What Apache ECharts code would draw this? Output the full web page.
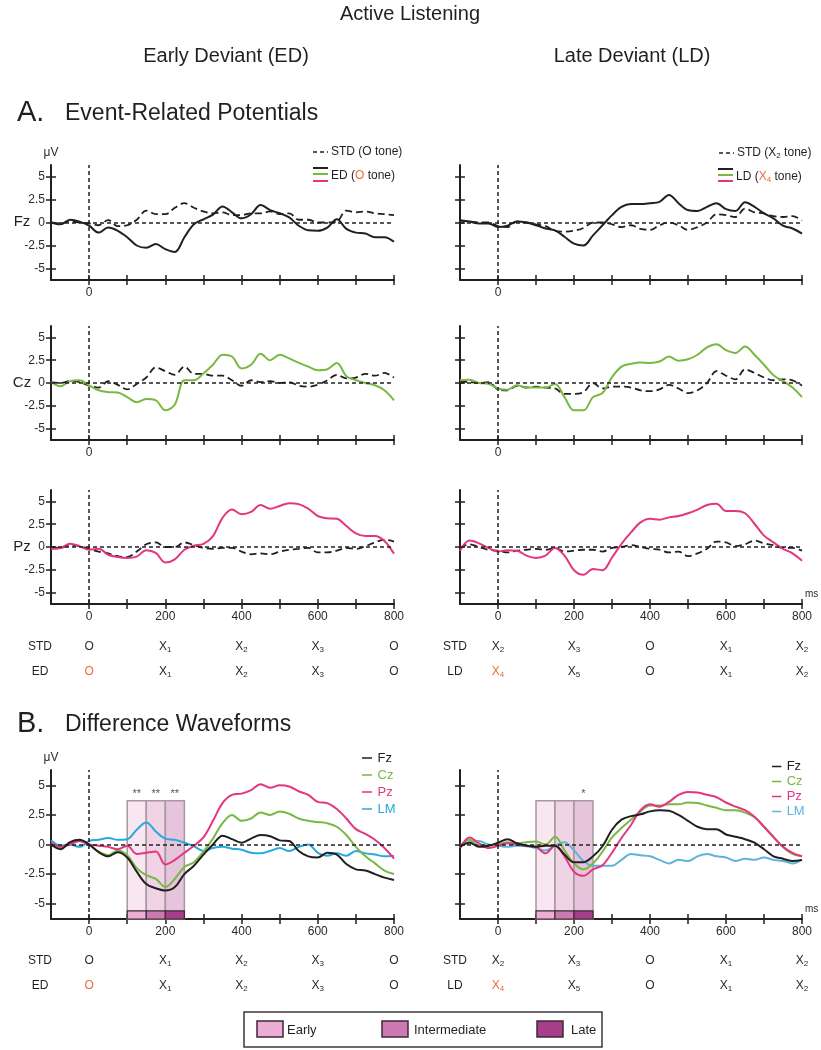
<!DOCTYPE html>
<html><head><meta charset="utf-8">
<script src="https://cdn.jsdelivr.net/npm/echarts@6/dist/echarts.min.js"></script>
<style>html,body{margin:0;padding:0;background:#fff}#c{width:821px;height:1050px}</style>
</head><body><div id="c"></div>
<script>
// ---------- data ----------
const times = [-100,-75,-50,-25,0,25,50,75,100,125,150,175,200,225,250,275,300,325,350,375,400,425,450,475,500,525,550,575,600,625,650,675,700,725,750,775,800];

// A. ERPs (µV)
const fzED   = [0,-0.2,0.3,0.1,-0.35,-1.1,-0.55,-0.9,-1.6,-2.5,-2.75,-2.35,-2.9,-3.2,-1.6,-0.2,0.35,0.85,1.75,1.1,0.45,0.9,1.9,1.35,1.0,0.55,-0.35,-0.85,-0.9,-0.55,0.35,-0.7,-1.1,-1.2,-1.6,-1.6,-2.1];
const fzStdL = [0,-0.1,0.1,0,-0.1,-0.3,0.25,-0.4,-0.3,0.3,1.3,0.9,0.9,1.6,2.1,1.6,1.2,1.0,1.1,0.8,0.8,1.0,1.0,1.2,0.9,1.0,0.3,0.3,0,0,0.1,1.3,1.1,1.2,1.0,0.9,0.8];
const fzLD   = [0.25,0.1,-0.1,-0.1,-0.5,-0.35,0.1,0,-0.3,-0.65,-0.85,-1.55,-2.3,-2.5,-1.4,-0.3,0.8,1.7,2.0,2.0,2.1,2.25,3.0,2.1,1.35,1.25,1.7,2.1,1.45,1.25,2.2,1.7,1.0,0.45,-0.35,-0.65,-1.2];
const fzStdR = [0.2,0.1,0,0,-0.4,-0.5,0.1,0,-0.2,-0.4,-0.9,-1.0,-0.9,-0.6,0,0,-0.2,-0.5,-0.3,-0.7,-0.8,-0.3,0,-0.3,-0.8,-0.5,0,0.9,0.8,0.6,1.5,1.1,1.0,0.7,0.6,0.7,0.2];
const czED   = [0.1,-0.35,0.2,0.3,-0.25,-0.8,-1.0,-1.05,-1.55,-2.1,-1.75,-1.9,-3.0,-2.35,0.3,0.3,1.05,2.0,3.1,2.9,1.6,2.0,3.2,2.5,3.1,2.7,2.2,1.8,1.4,1.5,2.2,0.75,0.3,0,-0.25,-0.8,-1.9];
const czStdL = [0.1,0,0.2,0.1,-0.3,-0.5,0.2,-0.2,-0.7,-0.1,0.6,1.7,1.3,0.9,1.8,1.0,1.0,0.8,0.8,0.3,-0.3,0.3,0.1,0.2,0,0.1,-0.3,-0.4,-0.2,0.3,0.9,0.5,0.6,1.0,0.8,1.1,0.6];
const czLD   = [0.3,0.35,0,-0.1,-0.6,-0.75,-0.25,-0.5,-0.5,-0.5,-0.1,-1.55,-3.0,-3.0,-1.55,-1.1,0.65,1.8,2.1,2.25,2.2,2.35,2.9,2.45,2.6,3.1,3.9,4.25,3.6,3.3,4.0,3.1,2.0,0.85,0.2,-0.5,-1.55];
const czStdR = [0.2,0.1,0,0.1,-0.7,-0.8,-0.3,-0.5,-0.4,-0.5,-0.6,-1.2,-1.2,-1.0,0,-0.6,-0.4,-0.4,-0.5,-0.8,-0.9,-0.7,-0.2,-0.6,-1.1,-0.8,0,1.3,0.8,0.4,1.5,1.1,0.6,0.3,0.4,0.3,-0.3];
const pzED   = [-0.2,-0.1,0.35,0.1,-0.3,-0.2,-0.85,-1.1,-1.2,-1.05,-0.35,-0.65,-1.7,-1.35,-0.3,0.15,0.35,1.2,3.2,4.1,3.6,3.85,4.6,4.2,4.5,4.8,4.7,4.2,3.4,3.15,3.1,2.3,1.5,1.2,1.2,0.65,-0.75];
const pzStdL = [0,-0.1,0.2,0.1,-0.2,-0.5,-0.7,-1.0,-1.1,-0.5,0.3,0.5,0,0,0.5,0.2,-0.1,-0.2,-0.1,-0.1,-0.5,-0.8,-0.7,-0.8,-0.5,-0.3,-0.2,-0.1,-0.6,-0.6,-0.4,-0.1,-0.2,0.1,0.5,0.8,0.6];
const pzLD   = [-0.4,0.7,0.4,-0.1,-0.5,-0.35,-0.4,-0.95,-1.2,-0.95,-0.1,-0.95,-2.55,-3.05,-2.4,-2.55,-1.15,0.35,1.6,2.7,3.1,3.0,3.25,3.4,3.7,4.1,4.6,4.75,3.95,3.95,3.7,2.55,1.25,0.5,-0.2,-0.7,-1.5];
const pzStdR = [-0.1,0.3,0,-0.3,-0.4,-0.6,-0.4,-0.3,-0.2,-0.3,-0.1,-0.5,-0.4,-0.3,-0.3,-0.5,-0.1,0,0.2,0,-0.2,-0.3,-0.6,-0.5,-1.0,-0.7,-0.2,0.6,0.5,0.1,0.3,0.7,0.4,0.2,-0.1,-0.1,-0.4];

// B. Difference waveforms (µV)
const dL_Fz = [0,-0.4,0.2,0.4,0,-0.65,-1.0,-0.65,-1.1,-2.3,-3.35,-3.7,-3.9,-3.6,-2.5,-1.8,-0.85,0,0.75,0.45,0.15,0.5,0.8,0.7,0.35,0.3,-0.55,-1.0,-1.1,-0.7,-0.85,-1.65,-2.1,-2.2,-2.5,-2.8,-3.0];
const dL_Cz = [0,-0.3,0.1,0.3,0,-0.6,-0.9,-0.5,-0.9,-2.0,-2.6,-2.9,-3.6,-2.9,-1.9,-1.5,-0.6,0.5,1.8,2.5,2.0,2.2,2.7,2.5,2.8,2.6,2.2,2.0,1.9,1.8,1.5,0.8,-0.2,-1.0,-1.6,-2.2,-2.5];
const dL_Pz = [0.15,-0.2,0,0.3,0,-0.1,-0.2,-0.4,-0.1,-0.8,-0.7,-0.6,-1.7,-1.3,-0.7,-0.1,0.6,2.0,3.5,4.2,4.3,4.6,5.1,4.8,5.0,4.9,4.5,4.2,3.6,3.5,3.0,2.2,1.3,0.9,0.4,-0.3,-1.2];
const dL_LM = [0.35,-0.1,0,-0.2,0.3,0.4,0.55,0.4,0.45,1.25,1.85,1.1,0.5,0.4,0.15,-0.15,-0.55,-0.3,-0.2,-0.35,-0.45,-0.7,-0.75,-0.55,-0.3,-0.55,-0.2,0,-0.7,-0.95,-0.75,-0.95,-0.55,-0.75,-0.85,-1.0,-0.95];
const dR_Fz = [-0.2,0.15,-0.2,-0.1,0.15,0.45,0.1,-0.1,-0.2,-0.1,-0.1,-0.85,-1.5,-1.5,-1.0,-0.15,1.25,2.1,2.4,2.55,2.8,2.9,2.85,2.5,2.0,1.5,1.3,1.3,0.85,0.65,0.45,0.15,-0.4,-1.0,-1.2,-1.4,-1.3];
const dR_Cz = [-0.2,0.4,-0.1,-0.1,0,0.2,0.1,0.2,0.25,0,0.65,-0.5,-1.6,-2.1,-1.6,-0.6,0.6,1.4,2.1,2.8,3.3,3.3,3.4,3.4,3.55,3.5,3.3,3.1,2.9,2.9,2.7,2.3,1.5,0.6,-0.2,-0.8,-1.0];
const dR_Pz = [-0.3,0.6,0.1,-0.3,-0.1,0.1,0,-0.1,-0.2,-0.75,-0.1,-1.0,-2.3,-2.65,-2.1,-1.75,-0.7,0.55,1.65,2.9,3.4,3.2,3.6,4.2,4.45,4.4,4.2,4.0,3.55,3.2,2.9,2.35,1.5,0.65,-0.2,-0.7,-1.0];
const dR_LM = [0,0.2,0.3,0,-0.1,-0.2,-0.1,-0.15,-0.3,-0.5,-0.1,0.2,-0.5,-1.4,-1.8,-1.8,-1.8,-1.3,-0.8,-0.9,-1.0,-1.3,-1.6,-1.3,-1.4,-1.0,-0.8,-1.0,-1.1,-1.4,-1.2,-1.3,-1.1,-1.3,-1.4,-1.6,-1.3];

// ticks / labels
const xTicks = [0,100,200,300,400,500,600,700,800];
const xLabelsFull = [0,200,400,600,800];
const xLabelsZero = [0];
const yTicks = [-5,-2.5,0,2.5,5];
const yRangeA = 6.25, yRangeB = 6.3;

// time windows (ms) and significance
const bandEdges = [100,150,200,250];
const bandNames = ['Early','Intermediate','Late'];
const bandTop = 3.7;
const barTop = -5.62;
const starsL = ['**','**','**'];
const starsR = ['','','*'];

// tone sequences under the panels
const seqL_std = ['O','X1','X2','X3','O'];
const seqL_dev = ['O','X1','X2','X3','O'];
const seqR_std = ['X2','X3','O','X1','X2'];
const seqR_dev = ['X4','X5','O','X1','X2'];
const devHighlight = 0;

// ---------- styles ----------
const FF = '"Liberation Sans", Arial, Helvetica, sans-serif';
const INK = '#231f20', TXT = '#2a2a2a';
const C = {black:'#231f20', green:'#78b843', pink:'#e4367f', blue:'#25a9e0', blue2:'#5db3dc', orange:'#ec6a3c'};
const bandFill = ['#f8e6f0','#f0d4e6','#e5c4dc'];
const barFill = ['#ecaed4','#cd7ab4','#a63e8b'];
const LINE_ICON = 'path://M0,0L0.01,0M0,6.2L10,6.2L10,7.8L0,7.8ZM10,14L9.99,14';

const seqRich = {
  n:{fontSize:12, color:TXT, fontFamily:FF, lineHeight:14},
  s:{fontSize:8, color:TXT, fontFamily:FF, lineHeight:9, verticalAlign:'bottom'},
  o:{fontSize:12, color:C.orange, fontFamily:FF, lineHeight:14},
  os:{fontSize:8, color:C.orange, fontFamily:FF, lineHeight:9, verticalAlign:'bottom'}
};
function seqFmt(s, hi) {
  if (s.length > 1) return '{' + (hi ? 'o' : 'n') + '|X}{' + (hi ? 'os' : 's') + '|' + s.slice(1) + '}';
  return '{' + (hi ? 'o' : 'n') + '|' + s + '}';
}

const grids = [], xAxes = [], yAxes = [], series = [];

function addPanel(cfg) {
  const gi = grids.length;
  grids.push({left:cfg.left, top:cfg.top, width:cfg.width, height:cfg.height});
  const xi = xAxes.length, yi = yAxes.length;
  const xBase = {type:'value', gridIndex:gi, min:-100, max:800, position:'bottom', splitLine:{show:false}};
  xAxes.push(Object.assign({}, xBase, {
    axisLine:{show:true, onZero:false, lineStyle:{color:INK, width:2}},
    axisTick:{show:true, inside:false, length:5, customValues:xTicks, lineStyle:{color:INK, width:1.5}},
    axisLabel:{show:true, customValues:cfg.xLabels, fontSize:12, color:TXT, fontFamily:FF, margin:7},
    name: cfg.ms ? 'ms' : '', nameLocation:'end', nameGap:3,
    nameTextStyle:{fontSize:10, color:TXT, fontFamily:FF, align:'left', verticalAlign:'bottom', padding:[0,0,5,0]}
  }));
  xAxes.push(Object.assign({}, xBase, {
    axisLine:{show:false, onZero:false},
    axisTick:{show:true, inside:true, length:5, customValues:xTicks, lineStyle:{color:INK, width:1.5}},
    axisLabel:{show:false}
  }));
  const yBase = {type:'value', gridIndex:gi, min:-cfg.yr, max:cfg.yr, position:'left', splitLine:{show:false}};
  yAxes.push(Object.assign({}, yBase, {
    axisLine:{show:true, onZero:false, lineStyle:{color:INK, width:2}},
    axisTick:{show:true, inside:false, length:5, customValues:yTicks, lineStyle:{color:INK, width:1.5}},
    axisLabel:{show:!!cfg.yLabels, customValues:yTicks, fontSize:12, color:TXT, fontFamily:FF, margin:6},
    name: cfg.unit ? 'μV' : '', nameLocation:'end', nameGap:6,
    nameTextStyle:{fontSize:12, color:TXT, fontFamily:FF}
  }));
  yAxes.push(Object.assign({}, yBase, {
    axisLine:{show:false, onZero:false},
    axisTick:{show:true, inside:true, length:5, customValues:yTicks, lineStyle:{color:INK, width:1.5}},
    axisLabel:{show:false}
  }));
  if (cfg.seq) {
    cfg.seq.forEach(function (row, k) {
      xAxes.push(Object.assign({}, xBase, {
        offset: cfg.seqOffsets[k],
        axisLine:{show:false, onZero:false}, axisTick:{show:false},
        axisLabel:{show:true, customValues:xLabelsFull, margin:0,
          formatter: function (v) { const i = Math.round(v / 200); return seqFmt(row.labels[i], row.hi === i); },
          rich: seqRich}
      }));
    });
  }
  // zero reference lines
  series.push({type:'line', name:'_ref' + gi, xAxisIndex:xi, yAxisIndex:yi, data:[], silent:true,
    markLine:{silent:true, symbol:['none','none'], label:{show:false}, animation:false,
      lineStyle:{color:INK, width:1.5, type:[4,3]}, emphasis:{disabled:true},
      data:[{xAxis:0},{yAxis:0}]}});
  return {gi:gi, xi:xi, yi:yi};
}

function addLine(p, name, arr, color, dashed) {
  series.push({type:'line', name:name, xAxisIndex:p.xi, yAxisIndex:p.yi,
    data: times.map(function (t, i) { return [t, arr[i]]; }),
    symbol:'none', showSymbol:false, smooth:0.35, silent:true, z:3,
    lineStyle:{color:color, width: dashed ? 1.8 : 2, type: dashed ? [7,4] : 'solid'},
    itemStyle:{color:color}});
}

function addBands(p, stars) {
  const data = [];
  for (let k = 0; k < 3; k++) {
    data.push([{name:bandNames[k], xAxis:bandEdges[k], yAxis:-yRangeB,
      itemStyle:{color:bandFill[k], borderColor:'#a8979f', borderWidth:1.5},
      label:{show:!!stars[k], position:'top', formatter:stars[k] || ' ', distance:1, fontSize:11, color:'#555', fontFamily:FF}},
      {xAxis:bandEdges[k + 1], yAxis:bandTop}]);
  }
  for (let k = 0; k < 3; k++) {
    data.push([{name:bandNames[k] + ' window', xAxis:bandEdges[k], yAxis:-yRangeB,
      itemStyle:{color:barFill[k], borderColor:'#3d2a35', borderWidth:1.2}, label:{show:false}},
      {xAxis:bandEdges[k + 1], yAxis:barTop}]);
  }
  series.push({type:'line', name:'_bands' + p.gi, xAxisIndex:p.xi, yAxisIndex:p.yi, data:[], silent:true,
    markArea:{silent:true, animation:false, label:{show:false}, emphasis:{disabled:true}, data:data}});
}

const colL = {left:51, width:343}, colR = {left:460, width:342};
const rowFz = {top:165, height:115}, rowCz = {top:326, height:114}, rowPz = {top:490, height:114}, rowB = {top:770, height:149};

function P(col, row, extra) { return Object.assign({}, col, row, extra); }

const pFzL = addPanel(P(colL, rowFz, {yr:yRangeA, xLabels:xLabelsZero, yLabels:true, unit:true}));
const pFzR = addPanel(P(colR, rowFz, {yr:yRangeA, xLabels:xLabelsZero}));
const pCzL = addPanel(P(colL, rowCz, {yr:yRangeA, xLabels:xLabelsZero, yLabels:true}));
const pCzR = addPanel(P(colR, rowCz, {yr:yRangeA, xLabels:xLabelsZero}));
const pPzL = addPanel(P(colL, rowPz, {yr:yRangeA, xLabels:xLabelsFull, yLabels:true,
  seq:[{labels:seqL_std, hi:-1},{labels:seqL_dev, hi:devHighlight}], seqOffsets:[36,61]}));
const pPzR = addPanel(P(colR, rowPz, {yr:yRangeA, xLabels:xLabelsFull, ms:true,
  seq:[{labels:seqR_std, hi:-1},{labels:seqR_dev, hi:devHighlight}], seqOffsets:[36,61]}));
const pBL = addPanel(P(colL, rowB, {yr:yRangeB, xLabels:xLabelsFull, yLabels:true, unit:true,
  seq:[{labels:seqL_std, hi:-1},{labels:seqL_dev, hi:devHighlight}], seqOffsets:[35,60]}));
const pBR = addPanel(P(colR, rowB, {yr:yRangeB, xLabels:xLabelsFull, ms:true,
  seq:[{labels:seqR_std, hi:-1},{labels:seqR_dev, hi:devHighlight}], seqOffsets:[35,60]}));

addLine(pFzL, 'STD Fz (O)', fzStdL, INK, true);   addLine(pFzL, 'ED Fz', fzED, C.black, false);
addLine(pFzR, 'STD Fz (X2)', fzStdR, INK, true);  addLine(pFzR, 'LD Fz', fzLD, C.black, false);
addLine(pCzL, 'STD Cz (O)', czStdL, INK, true);   addLine(pCzL, 'ED Cz', czED, C.green, false);
addLine(pCzR, 'STD Cz (X2)', czStdR, INK, true);  addLine(pCzR, 'LD Cz', czLD, C.green, false);
addLine(pPzL, 'STD Pz (O)', pzStdL, INK, true);   addLine(pPzL, 'ED Pz', pzED, C.pink, false);
addLine(pPzR, 'STD Pz (X2)', pzStdR, INK, true);  addLine(pPzR, 'LD Pz', pzLD, C.pink, false);

addBands(pBL, starsL);
addBands(pBR, starsR);
addLine(pBL, 'LM', dL_LM, C.blue, false);
addLine(pBL, 'Cz', dL_Cz, C.green, false);
addLine(pBL, 'Pz', dL_Pz, C.pink, false);
addLine(pBL, 'Fz', dL_Fz, C.black, false);
addLine(pBR, 'LM', dR_LM, C.blue2, false);
addLine(pBR, 'Cz', dR_Cz, C.green, false);
addLine(pBR, 'Pz', dR_Pz, C.pink, false);
addLine(pBR, 'Fz', dR_Fz, C.black, false);

// ---------- text & legend decorations ----------
const graphics = [];
function T(x, y, text, size, align, rich) {
  const st = {text:text, fill:INK, font: size + 'px ' + FF, textAlign: align || 'left', textVerticalAlign:'middle'};
  if (rich) st.rich = rich;
  graphics.push({type:'text', x:x, y:y, silent:true, style:st});
}
function L(x1, y1, x2, y2, color, w, dash) {
  graphics.push({type:'line', silent:true, shape:{x1:x1, y1:y1, x2:x2, y2:y2}, style:{stroke:color, lineWidth:w, lineDash:dash || null}});
}
function R(x, y, w, h, fill, stroke, lw) {
  graphics.push({type:'rect', silent:true, shape:{x:x, y:y, width:w, height:h}, style:{fill:fill, stroke:stroke, lineWidth:lw}});
}

T(410, 14, 'Active Listening', 20, 'center');
T(226, 56, 'Early Deviant (ED)', 20, 'center');
T(632, 56, 'Late Deviant (LD)', 20, 'center');
T(17, 113, 'A.', 29);
T(65, 114, 'Event-Related Potentials', 23);
T(17, 724, 'B.', 29);
T(65, 725, 'Difference Waveforms', 23);
T(22, 222, 'Fz', 15, 'center');
T(22, 383, 'Cz', 15, 'center');
T(22, 547, 'Pz', 15, 'center');
[[647, 'STD', 'STD'], [672, 'ED', 'LD'], [961, 'STD', 'STD'], [986, 'ED', 'LD']].forEach(function (r) {
  T(40, r[0], r[1], 12, 'center');
  T(455, r[0], r[2], 12, 'center');
});

const lgRich = {
  o:{fill:C.orange, font:'12px ' + FF, lineHeight:14},
  n:{fill:INK, font:'12px ' + FF, lineHeight:14},
  s:{fill:INK, font:'8px ' + FF, lineHeight:9, verticalAlign:'bottom'},
  os:{fill:C.orange, font:'8px ' + FF, lineHeight:9, verticalAlign:'bottom'}
};
// left ERP legend
L(313, 152, 328, 152, INK, 1.6, [4,3]);
T(331, 152, 'STD (O tone)', 12);
L(313, 168, 328, 168, C.black, 2);
L(313, 174, 328, 174, C.green, 2);
L(313, 181, 328, 181, C.pink, 2);
T(331, 176, 'ED ({o|O} tone)', 12, 'left', lgRich);
// right ERP legend
L(719, 153, 734, 153, INK, 1.6, [4,3]);
T(737, 153, 'STD ({n|X}{s|2} tone)', 12, 'left', lgRich);
L(718, 169, 733, 169, C.black, 2);
L(718, 175, 733, 175, C.green, 2);
L(718, 181, 733, 181, C.pink, 2);
T(736, 177, 'LD ({o|X}{os|4} tone)', 12, 'left', lgRich);

// bottom window legend
R(244, 1012, 358, 35, 'none', '#3a3a3a', 1.5);
const swX = [257, 382, 537], txX = [287, 414, 571];
for (let k = 0; k < 3; k++) {
  R(swX[k], 1021, 26, 16, barFill[k], '#3d2a35', 1.5);
  T(txX[k], 1030, bandNames[k], 13);
}

const legendItems = function (lmColor) {
  return [
    {name:'Fz', textStyle:{color:C.black}, itemStyle:{color:C.black}},
    {name:'Cz', textStyle:{color:C.green}, itemStyle:{color:C.green}},
    {name:'Pz', textStyle:{color:C.pink}, itemStyle:{color:C.pink}},
    {name:'LM', textStyle:{color:lmColor}, itemStyle:{color:lmColor}}
  ];
};

const option = {
  animation:false,
  backgroundColor:'#ffffff',
  textStyle:{fontFamily:FF},
  grid:grids, xAxis:xAxes, yAxis:yAxes, series:series,
  legend:[
    {orient:'vertical', left:357, top:746, icon:LINE_ICON, itemWidth:11, itemHeight:14, itemGap:3, selectedMode:false,
     textStyle:{fontSize:13, fontFamily:FF}, data:legendItems(C.blue)},
    {orient:'vertical', left:767, top:755, icon:LINE_ICON, itemWidth:10, itemHeight:13, itemGap:2, selectedMode:false,
     textStyle:{fontSize:13, fontFamily:FF}, data:legendItems(C.blue2)}
  ],
  graphic:graphics
};

const chart = echarts.init(document.getElementById('c'), null, {renderer:'canvas', width:821, height:1050});
chart.setOption(option);
</script>
</body></html>
